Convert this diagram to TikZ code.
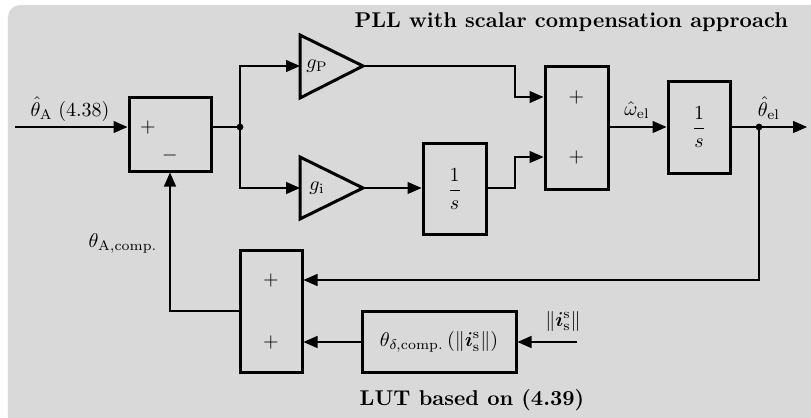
\documentclass[tikz,border=0pt]{standalone}
\usepackage{amsmath,bm}
\usetikzlibrary{arrows.meta}
\definecolor{bggray}{RGB}{217,217,217}
\begin{document}
\begin{tikzpicture}[x=0.5pt,y=-0.5pt,
  wire/.style={line width=0.7pt},
  arr/.style={wire,-{Triangle[length=7pt,width=6pt]}},
  blk/.style={draw,line width=1.5pt,inner sep=0pt,fill=bggray},
  dotn/.style={circle,fill,inner sep=0pt,minimum size=3.4pt},
  gainshape/.style={draw,line width=1.5pt,line join=miter,fill=bggray},
  bigtxt/.style={font=\fontsize{10.7}{13}\selectfont\bfseries}]
\useasboundingbox (0,0) rectangle (811,418);
\fill[bggray,rounded corners=6pt] (8,5) rectangle (830,440);
% blocks
\node[blk,minimum width=41pt,minimum height=37pt] (sum1) at (170,134) {};
\node (s1p) at (148,127) {$+$};
\node (s1m) at (170,155) {$-$};
\draw[gainshape] (300,35) -- (300,98) -- (363,66) -- cycle;
\coordinate (gPin) at (300,66); \coordinate (gPout) at (363,66);
\node (gPl) at (317,66) {$g_\mathrm{P}$};
\draw[gainshape] (300,157) -- (300,219) -- (363,188) -- cycle;
\coordinate (giin) at (300,188); \coordinate (giout) at (363,188);
\node (gil) at (317,188) {$g_\mathrm{i}$};
\node[blk,minimum width=31.5pt,minimum height=45.5pt] (int1) at (454.5,189) {$\dfrac{1}{s}$};
\node[blk,minimum width=31.5pt,minimum height=61.5pt] (sum2) at (576.5,127.5) {};
\node (s2a) at (576.5,97) {$+$};
\node (s2b) at (576.5,157) {$+$};
\node[blk,minimum width=31pt,minimum height=46pt] (int2) at (699,127) {$\dfrac{1}{s}$};
\node[blk,minimum width=31pt,minimum height=61pt] (sum3) at (271,311) {};
\node (s3a) at (271,280) {$+$};
\node (s3b) at (271,342) {$+$};
\node[blk,minimum width=77pt,minimum height=30.5pt] (lut) at (439,341.5) {$\theta_{\delta,\mathrm{comp.}}\left(\|\bm{i}_\mathrm{s}^\mathrm{s}\|\right)$};
% coordinates
\coordinate (in) at (15,127);
\coordinate (j1) at (240,127);
\coordinate (j2) at (759,127);
\coordinate (out) at (807,127);
\coordinate (iin) at (577,342);
% wires
\draw[arr] (in) -- (sum1.west |- in);
\draw[wire] (sum1.east |- j1) -- (j1);
\draw[arr] (j1) |- (gPin);
\draw[arr] (j1) |- (giin);
\draw[arr] (giout) -- (int1.west |- giout);
\draw[arr] (gPout) -- (515,66) |- (sum2.west |- s2a);
\draw[arr] (int1.east |- giout) -- (515,188) |- (sum2.west |- s2b);
\draw[arr] (sum2.east |- j1) -- (int2.west |- j1);
\draw[arr] (int2.east |- j2) -- (out);
\draw[arr] (j2) |- (sum3.east |- s3a);
\draw[arr] (iin) -- (lut.east |- iin);
\draw[arr] (lut.west |- s3b) -- (sum3.east |- s3b);
\draw[arr] (sum3.west) -| (sum1.south);
\node[dotn] (d1) at (j1) {};
\node[dotn] (d2) at (j2) {};
% labels
\node (lin) at (70,109) {$\hat{\theta}_\mathrm{A}\;(4.38)$};
\node (lw) at (637,110) {$\hat{\omega}_\mathrm{el}$};
\node (lth) at (769,108) {$\hat{\theta}_\mathrm{el}$};
\node (lac) at (123,243) {$\theta_{\mathrm{A,comp.}}$};
\node (lis) at (563,321) {$\|\bm{i}_\mathrm{s}^\mathrm{s}\|$};
\node[anchor=east,bigtxt] (title) at (795,22) {PLL with scalar compensation approach};
\node[bigtxt] (lutl) at (472,400) {LUT based on (4.39)};
\end{tikzpicture}
\end{document}
